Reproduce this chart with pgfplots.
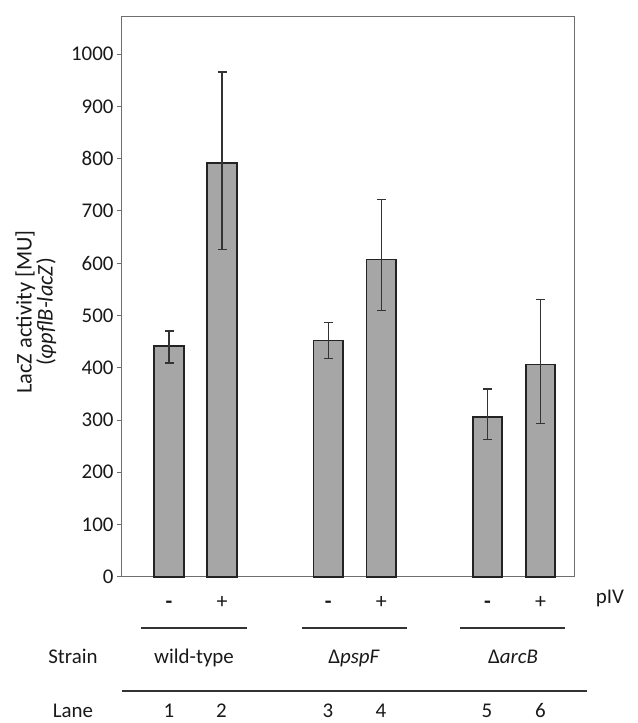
\documentclass[border=0pt]{standalone}
\usepackage{fontspec}
\setmainfont{Carlito}
\usepackage{pgfplots}
\pgfplotsset{compat=1.18}
\definecolor{barfill}{RGB}{166,166,166}
\definecolor{baredge}{RGB}{35,35,35}
\definecolor{axgray}{RGB}{110,110,110}
\pgfplotstableread{
x y ep em
1 442 28 33
2 791 175 165
4 452 34 34
5 607 115 98
7 306 53 44
8 406 124 113
}\lacz
\begin{document}
\begin{tikzpicture}[x=1bp,y=1bp]
\path[use as bounding box] (0,0) rectangle (638,723);
\begin{axis}[
  at={(121bp,146.3bp)}, anchor=south west,
  scale only axis, width=453bp, height=560.7bp,
  xmin=0.095, xmax=8.63, ymin=0, ymax=1073,
  ybar, bar width=29.5bp,
  axis line style={draw=axgray, line width=0.9bp},
  ytick={0,100,...,1000},
  ytick pos=left, tick align=outside,
  major tick length=4bp,
  ytick style={draw=axgray, line width=0.8bp},
  yticklabel style={font=\fontsize{21}{24}\selectfont, text=black!90},
  /pgf/number format/assume math mode=true,
  /pgf/number format/1000 sep={},
  xtick={1,2,4,5,7,8},
  xticklabels={\textbf{-},+,\textbf{-},+,\textbf{-},+},
  xtick style={draw=none},
  xticklabel style={font=\fontsize{22}{24}\selectfont, text=black!90,
    anchor=base, yshift=-27.5bp},
  ylabel={LacZ activity [MU]\\(\textit{φpflB-lacZ})},
  ylabel style={at={(axis description cs:-0.188,0.472)}, anchor=center,
    align=center, font=\fontsize{22.5}{19}\selectfont, text=black!90},
  clip=false,
]
\addplot[fill=barfill, draw=baredge, line width=1.8bp,
  error bars/.cd, y dir=both, y explicit,
  error bar style={draw=black!80, line width=1.4bp},
  error mark options={rotate=90, mark size=4.5bp, draw=black!80, line width=1.4bp}]
  table[x=x, y=y, y error plus=ep, y error minus=em] {\lacz};
\end{axis}
\begin{scope}[every node/.style={font=\fontsize{21}{24}\selectfont, text=black!90, anchor=base}]
\node at (610,119) {pIV};
\draw[black!80, line width=1.6bp] (141,95) -- (247,95);
\draw[black!80, line width=1.6bp] (302,95) -- (407,95);
\draw[black!80, line width=1.6bp] (460,95) -- (565,95);
\node at (73,59) {Strain};
\node at (194,59) {wild-type};
\node at (354,59) {Δ\textit{pspF}};
\node at (513,59) {Δ\textit{arcB}};
\draw[black!80, line width=1.6bp] (122,32) -- (587,32);
\begin{scope}[every node/.append style={inner sep=0pt}]
\node at (73,5) {Lane};
\node at (169,5) {1};
\node at (221.5,5) {2};
\node at (328,5) {3};
\node at (381,5) {4};
\node at (487,5) {5};
\node at (540.5,5) {6};
\end{scope}
\end{scope}
\end{tikzpicture}
\end{document}
